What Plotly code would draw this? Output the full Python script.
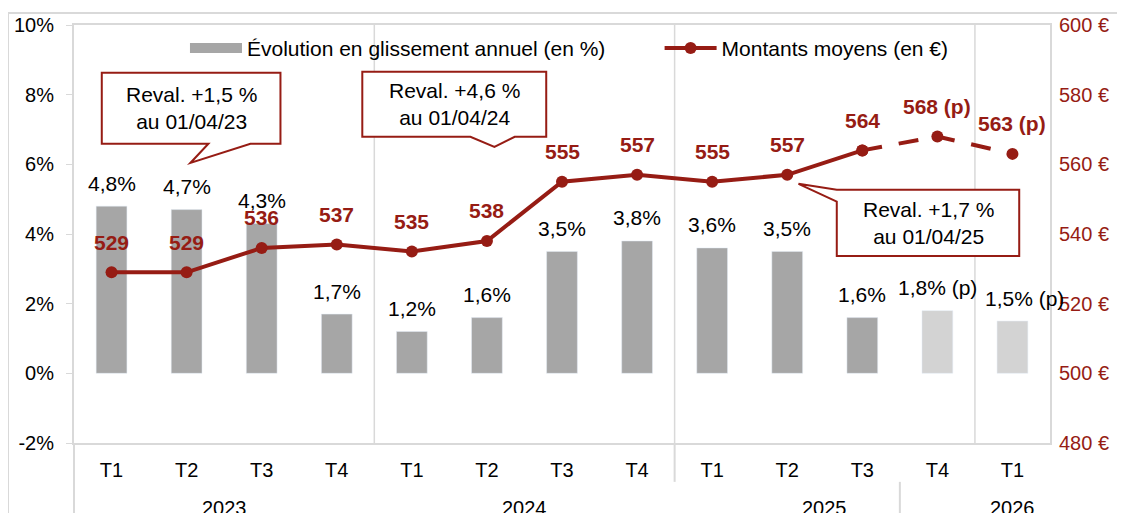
import plotly.graph_objects as go

# données
trimestres = ["T1", "T2", "T3", "T4", "T1", "T2", "T3", "T4", "T1", "T2", "T3", "T4", "T1"]
annees = ["2023", "2024", "2025", "2026"]
annee_pos = [1.5, 5.5, 9.5, 12]
glissement = [4.8, 4.7, 4.3, 1.7, 1.2, 1.6, 3.5, 3.8, 3.6, 3.5, 1.6, 1.8, 1.5]
montants = [529, 529, 536, 537, 535, 538, 555, 557, 555, 557, 564, 568, 563]
provisoire = [False] * 11 + [True, True]

ROUGE = "#961C14"
GRIS = "#A6A6A6"
GRIS_P = "#D3D3D3"
GRILLE = "#D9D9D9"
FONT = "Liberation Sans, Arial, sans-serif"

x = list(range(len(trimestres)))
n_reel = provisoire.index(True)

fig = go.Figure()

fig.add_trace(go.Bar(
    x=x, y=glissement, width=0.41,
    marker_color=[GRIS_P if p else GRIS for p in provisoire],
    showlegend=False,
))
# entrée de légende des barres (rectangle large comme dans Excel)
fig.add_trace(go.Scatter(
    x=[None], y=[None], mode="lines", line=dict(color=GRIS, width=10),
    name="Évolution en glissement annuel (en %)", legend="legend",
))

fig.add_trace(go.Scatter(
    x=x[:n_reel], y=montants[:n_reel], yaxis="y2", mode="lines+markers",
    line=dict(color=ROUGE, width=4), marker=dict(size=12, color=ROUGE),
    name="Montants moyens (en €)", legend="legend2",
))
fig.add_trace(go.Scatter(
    x=x[n_reel - 1:], y=montants[n_reel - 1:], yaxis="y2", mode="lines+markers",
    line=dict(color=ROUGE, width=4, dash="20px,17px"), marker=dict(size=12, color=ROUGE),
    showlegend=False,
))

annotations = []
for i, (v, p) in enumerate(zip(glissement, provisoire)):
    txt = f"{v:.1f}".replace(".", ",") + "%" + (" (p)" if p else "")
    annotations.append(dict(x=i, y=v, xref="x", yref="y", text=txt, showarrow=False,
                            yshift=23, xshift=12 if i == len(x) - 1 else 0,
                            font=dict(size=21, color="black")))
for i, (v, p) in enumerate(zip(montants, provisoire)):
    txt = f"<b>{v}{' (p)' if p else ''}</b>"
    annotations.append(dict(x=i, y=v, xref="x", yref="y2", text=txt, showarrow=False,
                            yshift=30, font=dict(size=21, color=ROUGE)))

for a, xp in zip(annees, annee_pos):
    annotations.append(dict(x=xp, y=-0.155, xref="x", yref="paper", yanchor="middle",
                            text=a, showarrow=False, font=dict(size=20, color="black")))

# bulles de revalorisation
bulles = [
    ("Reval. +1,5 %<br>au 01/04/23", (-0.13, 2.25, 8.63, 6.59), ("bas", 1.29, 1.85, 1.05, 6.04)),
    ("Reval. +4,6 %<br>au 01/04/24", (3.34, 5.79, 8.66, 6.79), ("bas", 4.78, 5.37, 5.10, 6.50)),
    ("Reval. +1,7 %<br>au 01/04/25", (9.66, 12.09, 5.27, 3.37), ("gauche", 4.93, None, 9.15, 5.44)),
]
shapes = []
for txt, (x0, x1, yt, yb), (cote, b1, b2, tx, ty) in bulles:
    if cote == "bas":
        path = (f"M {x0},{yt} L {x1},{yt} L {x1},{yb} L {b2},{yb} L {tx},{ty} "
                f"L {b1},{yb} L {x0},{yb} Z")
    else:
        path = f"M {x0},{yt} L {x1},{yt} L {x1},{yb} L {x0},{yb} L {x0},{b1} L {tx},{ty} Z"
    shapes.append(dict(type="path", path=path, xref="x", yref="y",
                       line=dict(color=ROUGE, width=2), fillcolor="white", layer="above"))
    annotations.append(dict(x=(x0 + x1) / 2, y=(yt + yb) / 2, xref="x", yref="y", text=txt,
                            showarrow=False, font=dict(size=21, color="black")))

# séparateurs
for s in [3.5, 7.5, 11.5]:
    shapes.append(dict(type="line", x0=s, x1=s, y0=-2, y1=10, xref="x", yref="y",
                       line=dict(color=GRILLE, width=1.5), layer="below"))
shapes.append(dict(type="line", x0=0, x1=0, y0=0, y1=-0.19, xref="paper", yref="paper",
                   line=dict(color=GRILLE, width=2)))
shapes.append(dict(type="line", x0=7.5, x1=7.5, y0=0, y1=-0.093, xref="x", yref="paper",
                   line=dict(color=GRILLE, width=2)))
shapes.append(dict(type="line", x0=10.5, x1=10.5, y0=-0.093, y1=-0.19, xref="x", yref="paper",
                   line=dict(color=GRILLE, width=2)))
# cadre extérieur
shapes.append(dict(type="line", x0=-0.0676, x1=1.08, y0=1.0287, y1=1.0287, xref="paper",
                   yref="paper", line=dict(color=GRILLE, width=2)))
shapes.append(dict(type="line", x0=-0.0676, x1=-0.0676, y0=1.0287, y1=-0.19, xref="paper",
                   yref="paper", line=dict(color=GRILLE, width=2)))

leg = dict(orientation="h", xanchor="left", y=0.993, yanchor="top",
           bgcolor="rgba(0,0,0,0)", font=dict(size=21), itemwidth=52)

fig.update_layout(
    width=1117, height=505,
    margin=dict(l=66, r=75, t=17, b=70),
    plot_bgcolor="white", paper_bgcolor="white",
    font=dict(family=FONT, size=20, color="black"),
    bargap=0.59,
    xaxis=dict(range=[-0.5, 12.5], tickvals=x, ticktext=trimestres, showgrid=False,
               zeroline=False, showline=True, mirror=True, linecolor=GRILLE, linewidth=2,
               ticks="", ticklabelstandoff=8, tickfont=dict(size=20), automargin=False),
    yaxis=dict(range=[-2, 10], tickvals=[-2, 0, 2, 4, 6, 8, 10],
               ticktext=["-2%", "0%", "2%", "4%", "6%", "8%", "10%"],
               showgrid=False, zeroline=False, showline=True, mirror=True,
               linecolor=GRILLE, linewidth=2, ticks="outside", ticklen=6, tickcolor=GRILLE,
               ticklabelstandoff=8, tickfont=dict(size=20), automargin=False),
    yaxis2=dict(range=[480, 600], overlaying="y", side="right",
                tickvals=[480, 500, 520, 540, 560, 580, 600],
                ticktext=["480 €", "500 €", "520 €", "540 €", "560 €", "580 €", "600 €"],
                showgrid=False, zeroline=False, showline=False, ticks="",
                ticklabelstandoff=8, tickfont=dict(size=20, color=ROUGE), automargin=False),
    legend=dict(leg, x=0.1137),
    legend2=dict(leg, x=0.600),
    showlegend=True,
    shapes=shapes,
    annotations=annotations,
)

fig.write_html("out.html")
